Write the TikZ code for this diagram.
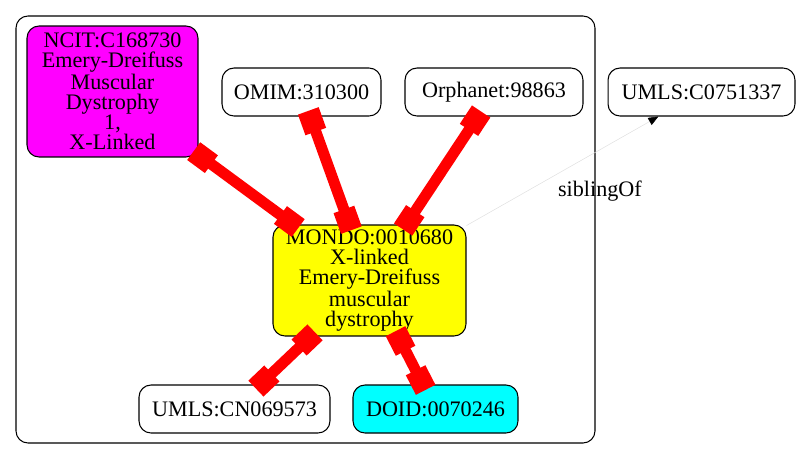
\documentclass[tikz,border=0pt]{standalone}
\usepackage{fontspec}
\setmainfont{Liberation Serif}
\usetikzlibrary{arrows.meta}
\definecolor{gvmagenta}{RGB}{255,0,255}
\definecolor{gvyellow}{RGB}{255,255,0}
\definecolor{gvcyan}{RGB}{0,255,255}
\definecolor{gvred}{RGB}{255,0,0}

\begin{document}
\begin{tikzpicture}[x=0.02cm, y=0.02cm]
			\tikzstyle{every node}+=[inner sep=0pt, align=center, font=\fontsize{12.6}{11.4}\selectfont]
			\tikzstyle{term}=[draw=black, line width=0.6pt, rounded corners=0.24cm, minimum height=0.96cm]
			\tikzstyle{xref}=[gvred, line width=0.22cm, {Square[length=0.44cm,width=0.44cm]}-{Square[length=0.44cm,width=0.44cm]}, shorten <=-0.12cm, shorten >=-0.12cm]
			\useasboundingbox (0,0) rectangle (800,-460);
			\draw [black, line width=0.6pt, rounded corners=0.24cm] (16,-16) rectangle (595,-443);
			\node [term, fill=gvmagenta, minimum width=3.42cm, minimum height=2.62cm] (ncit) at (112.5,-91.5) {NCIT:C168730\\Emery-Dreifuss\\Muscular\\Dystrophy\\1,\\X-Linked};
			\node [term, minimum width=3.18cm] (omim) at (301.5,-92) {OMIM:310300};
			\node [term, minimum width=3.56cm] (orpha) at (494,-92) {Orphanet:98863};
			\node [term, minimum width=3.74cm] (umlsc) at (701.5,-92) {UMLS:C0751337};
			\node [term, fill=gvyellow, minimum width=3.86cm, minimum height=2.22cm] (mondo) at (369.5,-280.5) {MONDO:0010680\\X-linked\\Emery-Dreifuss\\muscular\\dystrophy};
			\node [term, minimum width=3.82cm] (umlscn) at (234.5,-409) {UMLS:CN069573};
			\node [term, fill=gvcyan, minimum width=3.3cm] (doid) at (435.5,-409) {DOID:0070246};
			\draw [black!12, line width=0.3pt, -{Triangle[length=0.2cm,width=0.16cm,color=black]}] (mondo) -- (umlsc) node [pos=0.5, xshift=0.75cm, yshift=-0.41cm, black] {siblingOf};
			\draw [xref] (ncit) -- (mondo);
			\draw [xref] (omim) -- (mondo);
			\draw [xref] (orpha) -- (mondo);
			\draw [xref] (mondo) -- (umlscn);
			\draw [xref] (mondo) -- (doid);
		\end{tikzpicture}
\end{document}
